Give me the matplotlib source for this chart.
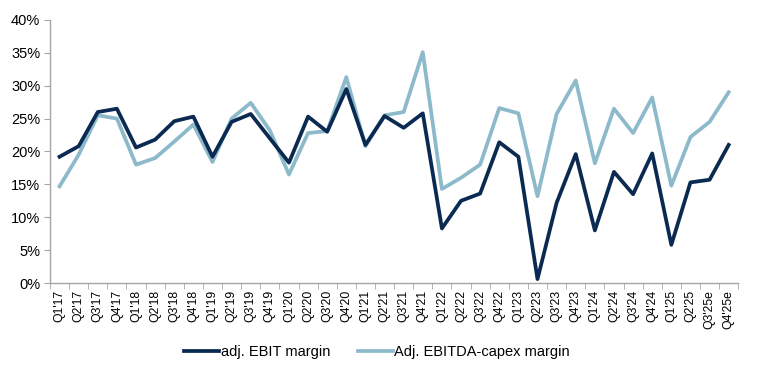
import numpy as np
import matplotlib
matplotlib.use("Agg")
import matplotlib.pyplot as plt

plt.rcParams["font.family"] = ["Liberation Sans", "DejaVu Sans"]

quarters = []
for yy in range(17, 26):
    for q in range(1, 5):
        quarters.append("Q%d'%d" % (q, yy))
quarters[-2] = "Q3'25e"
quarters[-1] = "Q4'25e"

ebit_margin = [19.2, 20.8, 26.0, 26.5, 20.6, 21.8, 24.6, 25.3, 19.2, 24.5, 25.7, 22.0,
               18.3, 25.3, 23.0, 29.5, 21.0, 25.4, 23.6, 25.8, 8.3, 12.5, 13.6, 21.4,
               19.2, 0.6, 12.2, 19.6, 8.0, 16.9, 13.5, 19.7, 5.8, 15.3, 15.7, 21.0]
ebitda_capex_margin = [14.7, 19.5, 25.5, 25.0, 18.0, 19.0, 21.5, 24.1, 18.4, 25.0, 27.4, 23.2,
                       16.5, 22.8, 23.1, 31.3, 20.8, 25.5, 26.0, 35.1, 14.3, 16.0, 18.0, 26.6,
                       25.8, 13.2, 25.7, 30.8, 18.2, 26.5, 22.8, 28.2, 14.8, 22.2, 24.5, 29.0]

dark = "#0b2a52"
light = "#8dbacb"
grey = "#a6a6a6"

fig = plt.figure(figsize=(7.69, 3.69), dpi=100)
ax = fig.add_axes([0.065, 0.233, 0.895, 0.713])

x = np.arange(len(quarters))
ax.plot(x, ebit_margin, color=dark, lw=2.7, label="adj. EBIT margin", zorder=3)
ax.plot(x, ebitda_capex_margin, color=light, lw=2.7, label="Adj. EBITDA-capex margin", zorder=2)

ax.set_xlim(-0.5, len(quarters) - 0.5)
ax.set_ylim(0, 40)
ax.set_yticks(range(0, 41, 5))
ax.set_yticklabels(["%d%%" % v for v in range(0, 41, 5)], fontsize=10.5)

ax.set_xticks(x)
ax.set_xticklabels(quarters, rotation=90, fontsize=8.8)
ax.set_xticks(np.arange(-0.5, len(quarters)), minor=True)
ax.tick_params(axis="x", which="major", length=0, pad=5)
ax.tick_params(axis="x", which="minor", length=4, color=grey, direction="out")
ax.tick_params(axis="y", length=4, color=grey, direction="out", pad=3)

for s in ["top", "right"]:
    ax.spines[s].set_visible(False)
for s in ["left", "bottom"]:
    ax.spines[s].set_color(grey)
    ax.spines[s].set_linewidth(1.0)

ax.legend(loc="upper center", bbox_to_anchor=(0.475, -0.185), ncol=2, frameon=False,
          fontsize=10.5, handlelength=2.4, handletextpad=0.1, columnspacing=1.9)

fig.savefig("out.png", dpi=100)
